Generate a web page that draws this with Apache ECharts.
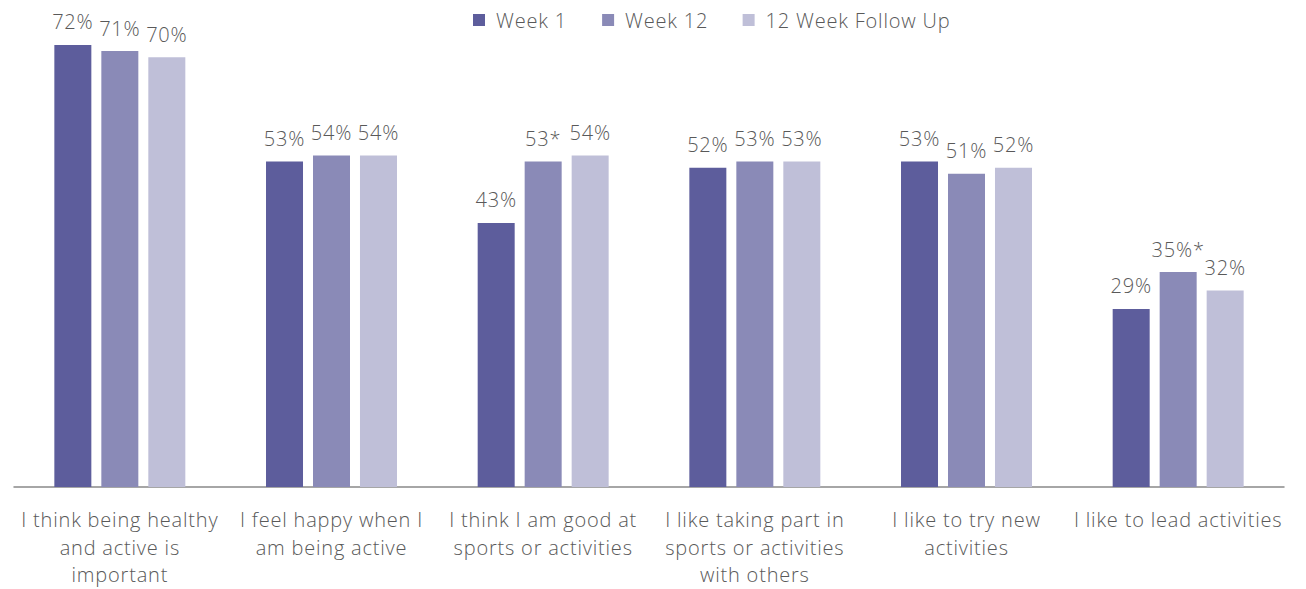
<!DOCTYPE html>
<html><head><meta charset="utf-8">
<script src="https://cdn.jsdelivr.net/npm/echarts@6/dist/echarts.min.js"></script>
<style>html,body{margin:0;padding:0;background:#fff}#c{width:1306px;height:589px;letter-spacing:0.8px}</style>
</head><body><div id="c"></div>
<script>
const categories = [
  "I think being healthy\nand active is\nimportant",
  "I feel happy when I\nam being active",
  "I think I am good at\nsports or activities",
  "I like taking part in\nsports or activities\nwith others",
  "I like to try new\nactivities",
  "I like to lead activities"
];
const seriesNames = ["Week 1", "Week 12", "12 Week Follow Up"];
const week1 = [72, 53, 43, 52, 53, 29];
const week12 = [71, 54, 53, 53, 51, 35];
const followUp = [70, 54, 54, 53, 52, 32];
const week1Labels = ["72%", "53%", "43%", "52%", "53%", "29%"];
const week12Labels = ["71%", "54%", "53*", "53%", "51%", "35%*"];
const followUpLabels = ["70%", "54%", "54%", "53%", "52%", "32%"];
const colors = ["#5d5d9c", "#8a8ab7", "#bfbfd8"];
const txt = "#595959";
const font = "Open Sans";

function mk(name, data, labels, color) {
  return {
    name, type: "bar", data, barWidth: 37, barGap: "27%",
    itemStyle: { color },
    label: { show: true, position: "top", distance: 13, color: txt, fontFamily: font, fontSize: 20, fontWeight: 300,
      formatter: p => labels[p.dataIndex] }
  };
}
const chart = echarts.init(document.getElementById("c"), null, { renderer: "svg" });
chart.setOption({
  animation: false,
  color: colors,
  textStyle: { fontFamily: font },
  legend: {
    top: 5, left: 468, itemWidth: 12, itemHeight: 12, itemGap: 40, icon: "rect",
    textStyle: { color: txt, fontSize: 20, fontWeight: 300, fontFamily: font, padding: [0, 0, 0, 6] },
    data: seriesNames
  },
  grid: { left: 14, right: 22, top: 26.5, bottom: 102, containLabel: false, outerBoundsMode: "none" },
  xAxis: {
    type: "category", data: categories,
    axisLine: { lineStyle: { color: "#898989", width: 1.5 } },
    axisTick: { show: false },
    axisLabel: { color: txt, fontSize: 20, fontWeight: 300, fontFamily: font, lineHeight: 27.5, margin: 19, interval: 0 }
  },
  yAxis: { type: "value", min: 0, max: 75, show: false, splitLine: { show: false } },
  series: [
    mk(seriesNames[0], week1, week1Labels, colors[0]),
    mk(seriesNames[1], week12, week12Labels, colors[1]),
    mk(seriesNames[2], followUp, followUpLabels, colors[2])
  ]
});
</script></body></html>
